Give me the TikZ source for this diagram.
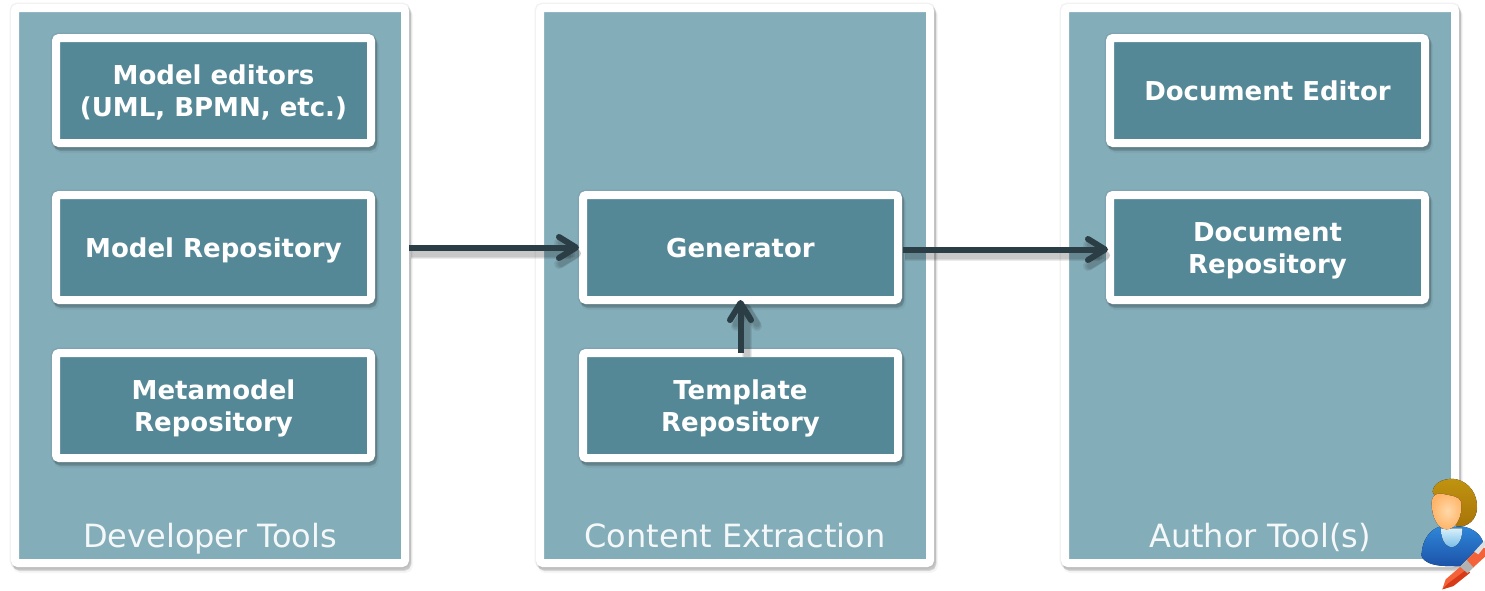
\documentclass[tikz,border=0pt]{standalone}
\usepackage{fontspec}
\setmainfont{DejaVu Sans}
\usetikzlibrary{arrows.meta,shadows,calc}
\definecolor{panelc}{HTML}{84ADBA}
\definecolor{boxc}{HTML}{558896}
\definecolor{arrowc}{HTML}{2B3E46}
\definecolor{hairtop}{HTML}{C09410}
\definecolor{hairlow}{HTML}{A87408}
\definecolor{skinin}{HTML}{FFD9A8}
\definecolor{skinout}{HTML}{FFB468}
\definecolor{coattop}{HTML}{2E86D8}
\definecolor{coatlow}{HTML}{1C52A8}
\definecolor{shirttop}{HTML}{D8F0FA}
\definecolor{shirtlow}{HTML}{78BCE8}
\definecolor{pentop}{HTML}{F4623A}
\definecolor{penlow}{HTML}{D83A18}
\newcommand\boxline{\rule[-6pt]{0pt}{32pt}}
\newcommand\titleline{\rule[-7pt]{0pt}{36pt}}
\tikzset{
  softshadow/.style={
    general shadow={shadow xshift=3pt,shadow yshift=-5pt,draw=black,draw opacity=.04,fill=none,line width=10pt,rounded corners=3pt},
    general shadow={shadow xshift=0pt,shadow yshift=0pt,draw=black,draw opacity=.05,fill=none,line width=11pt,rounded corners=3pt},
    general shadow={shadow xshift=1pt,shadow yshift=-2pt,draw=black,draw opacity=.06,fill=none,line width=10pt,rounded corners=3pt},
    general shadow={shadow xshift=2pt,shadow yshift=-3pt,draw=black,draw opacity=.07,fill=none,line width=9pt,rounded corners=3pt},
    general shadow={shadow xshift=2pt,shadow yshift=-4pt,draw=black,draw opacity=.08,fill=none,line width=8pt,rounded corners=3pt}},
  panelbox/.style={softshadow,draw=white,line width=8pt,fill=panelc,minimum width=390pt,minimum height=555pt,inner sep=0pt,outer sep=4pt,rounded corners=3pt},
  toolbox/.style={softshadow,draw=white,line width=8pt,fill=boxc,minimum width=315pt,minimum height=105pt,inner sep=0pt,outer sep=4pt,rounded corners=3pt,
     text=white,align=center,font=\fontsize{26}{32}\selectfont\bfseries},
  paneltitle/.style={text=white!92!panelc,inner sep=0pt,font=\fontsize{32}{36}\selectfont},
  link/.style={draw=arrowc,line width=6pt,-{Straight Barb[round,length=17pt,width=21pt,line width=6pt]}},
  linkshadow/.style={draw=black,draw opacity=.08,line width=#1,-{Straight Barb[round,length=17pt,width=21pt,line width=#1]}}
}
\begin{document}
\begin{tikzpicture}[x=1pt,y=-1pt]
\useasboundingbox (0,0) rectangle (1485,590);
\node[panelbox] (dev) at (210,285.5) {};
\node[panelbox] (ext) at (735,285.5) {};
\node[panelbox] (aut) at (1260,285.5) {};
\node[toolbox] (editors) at (213.5,90.5) {\boxline Model editors\\\boxline (UML, BPMN, etc.)};
\node[toolbox] (modelrepo) at (213.5,247.5) {\boxline Model Repository};
\node[toolbox] (metarepo) at (213.5,405.5) {\boxline Metamodel\\\boxline Repository};
\node[toolbox] (gen) at (740.5,247.5) {\boxline Generator};
\node[toolbox] (tmpl) at (740.5,405.5) {\boxline Template\\\boxline Repository};
\node[toolbox] (docedit) at (1267.5,90.5) {\boxline Document Editor};
\node[toolbox] (docrepo) at (1267.5,247.5) {\boxline Document\\\boxline Repository};
\node[paneltitle] (t1) at (210,536) {\titleline Developer Tools};
\node[paneltitle] (t2) at (735,536) {\titleline Content Extraction};
\node[paneltitle] (t3) at (1260,536) {\titleline Author Tool(s)};
\coordinate (a1s) at (dev.east |- gen.west);
\coordinate (a2s) at ($(gen.east)+(1,2)$);
\coordinate (a2e) at ($(docrepo.west)+(2,2)$);
\coordinate (a3s) at ($(tmpl.north)+(0,4)$);
\coordinate (a3e) at ($(gen.south)+(0,-4)$);
% arrow shadows
\foreach \w in {10pt,8pt,6pt}{
\draw[linkshadow=\w,transform canvas={xshift=2pt,yshift=-6pt}] (a1s) -- (gen.west);
\draw[linkshadow=\w,transform canvas={xshift=2pt,yshift=-6pt}] (a2s) -- (a2e);
\draw[linkshadow=\w,transform canvas={xshift=6pt,yshift=-4pt}] (a3s) -- (a3e);
}
% arrows
\draw[link] (a1s) -- (gen.west);
\draw[link] (a2s) -- (a2e);
\draw[link] (a3s) -- (a3e);
% author icon
\begin{scope}[shift={(1385,460)},x=0.3333pt,y=-0.3333pt]
  % hair
  \fill[top color=hairtop,bottom color=hairlow]
    (143,95) .. controls (145,65) and (185,52) .. (215,58)
    .. controls (255,68) and (278,105) .. (276,145)
    .. controls (274,178) and (250,202) .. (215,200) -- (160,130) -- cycle;
  % body
  \fill[top color=coattop,bottom color=coatlow]
    (110,280) .. controls (112,240) and (135,208) .. (165,200)
    -- (235,200) .. controls (265,205) and (290,225) .. (295,250)
    -- (225,318) .. controls (190,320) and (150,318) .. (130,308)
    .. controls (115,300) and (108,292) .. (110,280) -- cycle;
  % collar
  \fill[top color=shirttop,bottom color=shirtlow]
    (168,205) -- (232,205) .. controls (232,235) and (222,258) .. (200,262)
    .. controls (178,258) and (168,235) .. (168,205) -- cycle;
  % face
  \fill[inner color=skinin,outer color=skinout]
    (140,130) .. controls (140,105) and (155,97) .. (175,102)
    .. controls (200,108) and (222,108) .. (228,125)
    .. controls (234,165) and (215,208) .. (185,208)
    .. controls (158,208) and (140,170) .. (140,130) -- cycle;
  % pen
  \fill[pentop] (172,388) -- (182,358) -- (232,315) -- (255,338) -- (205,378) -- cycle;
  \fill[penlow] (172,388) -- (205,378) -- (255,338) -- (245,328) -- (190,370) -- cycle;
  \fill[pentop] (245,300) -- (290,255) -- (300,265) -- (300,290) -- (262,325) -- cycle;
  \fill[gray!60!white] (225,320) -- (245,300) -- (265,322) -- (248,340) -- cycle;
  \fill[gray!25!white] (268,275) -- (300,240) -- (300,258) -- (280,283) -- cycle;
\end{scope}
\end{tikzpicture}
\end{document}
